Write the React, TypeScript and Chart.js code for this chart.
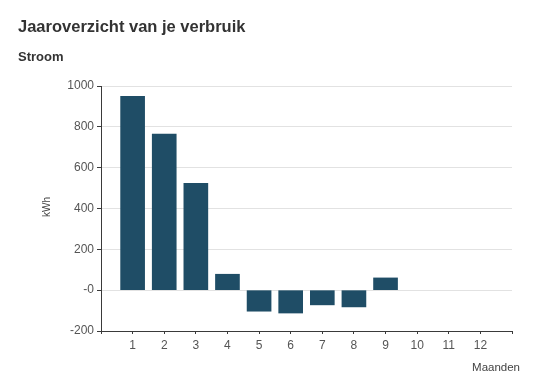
import React, { useEffect, useRef } from "react";
import { Chart, registerables } from "chart.js";

Chart.register(...registerables);

const months = ["1", "2", "3", "4", "5", "6", "7", "8", "9", "10", "11", "12"];
const verbruik: (number | null)[] = [950, 765, 523, 78, -103, -112, -72, -82, 60, null, null, null];
const yTicks = [-200, 0, 200, 400, 600, 800, 1000];
const titleText = "Jaaroverzicht van je verbruik";
const subtitleText = "Stroom";
const yAxisTitle = "kWh";
const xAxisTitle = "Maanden";

const FONT = '"Liberation Sans", Arial, Helvetica, sans-serif';
const BAR_COLOR = "#1f4d66";
const AXIS_COLOR = "#3a3a3a";

export default function App() {
  const canvasRef = useRef<HTMLCanvasElement | null>(null);

  useEffect(() => {
    const canvas = canvasRef.current;
    if (!canvas) return;

    const labels = ["", ...months, ""];
    const data = [null, ...verbruik, null];

    const axisTitles = {
      id: "axisTitles",
      afterDraw(chart: any) {
        const ctx = chart.ctx;
        ctx.save();
        ctx.fillStyle = "#444";
        ctx.font = `10px ${FONT}`;
        ctx.translate(47, 207);
        ctx.rotate(-Math.PI / 2);
        ctx.textAlign = "center";
        ctx.textBaseline = "middle";
        ctx.fillText(yAxisTitle, 0, 0);
        ctx.restore();

        ctx.save();
        ctx.fillStyle = "#444";
        ctx.font = `11.5px ${FONT}`;
        ctx.textAlign = "right";
        ctx.textBaseline = "alphabetic";
        ctx.fillText(xAxisTitle, 520, 371);
        ctx.restore();
      },
    };

    const chart = new Chart(canvas, {
      type: "bar",
      data: {
        labels,
        datasets: [
          {
            data: data as any,
            backgroundColor: BAR_COLOR,
            borderWidth: 0,
            barThickness: 24,
          },
        ],
      },
      options: {
        responsive: false,
        animation: false,
        layout: { padding: { top: 86, right: 28, left: 0, bottom: 0 } },
        plugins: {
          legend: { display: false },
          tooltip: { enabled: false },
          title: { display: false },
        },
        scales: {
          x: {
            type: "category",
            offset: false,
            grid: {
              offset: false,
              drawOnChartArea: false,
              color: AXIS_COLOR,
              tickLength: 3,
            },
            border: { color: AXIS_COLOR, width: 1 },
            ticks: {
              autoSkip: false,
              maxRotation: 0,
              padding: 4,
              color: "#555",
              font: { family: FONT, size: 12 },
            },
            afterFit(scale: any) {
              scale.height = 47;
            },
          },
          y: {
            min: yTicks[0],
            max: yTicks[yTicks.length - 1],
            afterBuildTicks(scale: any) {
              scale.ticks = yTicks.map((v) => ({ value: v }));
            },
            grid: {
              color: "#e2e2e2",
              tickColor: AXIS_COLOR,
              tickLength: 4,
            },
            border: { color: AXIS_COLOR, width: 1 },
            ticks: {
              padding: 3,
              color: "#555",
              font: { family: FONT, size: 12 },
              callback: (v: any) => (Number(v) === 0 ? "-0" : String(v)),
            },
            afterFit(scale: any) {
              scale.width = 101;
            },
          },
        },
      },
      plugins: [axisTitles],
    });

    return () => chart.destroy();
  }, []);

  return (
    <div style={{ position: "absolute", left: 0, top: 0, width: 540, height: 378, background: "#fff" }}>
      <canvas ref={canvasRef} width={540} height={378} style={{ position: "absolute", left: 0, top: 0 }} />
      <div
        style={{
          position: "absolute",
          left: 18,
          top: 17.5,
          font: `bold 16.5px ${FONT}`,
          lineHeight: 1,
          color: "#333",
          whiteSpace: "nowrap",
        }}
      >
        {titleText}
      </div>
      <div
        style={{
          position: "absolute",
          left: 18,
          top: 49.5,
          font: `bold 13px ${FONT}`,
          lineHeight: 1,
          color: "#333",
          whiteSpace: "nowrap",
        }}
      >
        {subtitleText}
      </div>
    </div>
  );
}
